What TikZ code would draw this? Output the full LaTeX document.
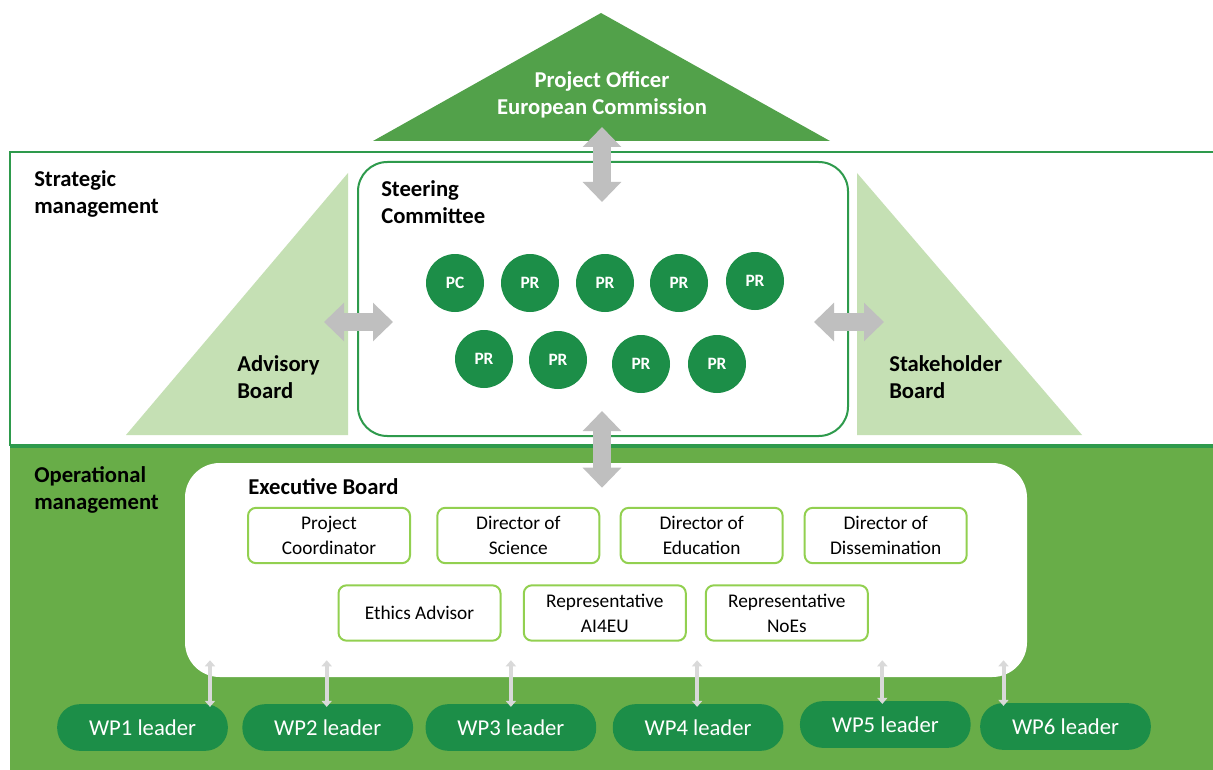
\documentclass[tikz,border=0pt]{standalone}
\usepackage{fontspec}
\setmainfont{Carlito}
\usetikzlibrary{positioning, calc, arrows.meta}
\definecolor{topgreen}{HTML}{52A14A}
\definecolor{opgreen}{HTML}{68AD48}
\definecolor{linegreen}{HTML}{2E9A4C}
\definecolor{darkgreen}{HTML}{1C8E48}
\definecolor{lightgreen}{HTML}{C5E0B4}
\definecolor{boxgreen}{HTML}{92D050}
\definecolor{arrowgray}{HTML}{BFBFBF}
\definecolor{thingray}{HTML}{D9D9D9}
\tikzset{heading/.style={font=\fontsize{17}{20.25}\selectfont\bfseries, align=left, anchor=west, inner sep=0pt},
member/.style={circle, fill=darkgreen, minimum size=43.5pt, inner sep=0pt, text=white, font=\fontsize{13}{15}\selectfont\bfseries},
role/.style={draw=boxgreen, line width=1.5pt, fill=white, rounded corners=6pt, minimum width=121.5pt, minimum height=41.5pt, align=center, inner sep=2pt, font=\fontsize{14.5}{18.75}\selectfont},
leader/.style={fill=darkgreen, rounded corners=17pt, minimum width=128pt, minimum height=35pt, text=white, font=\fontsize{17}{20}\selectfont},
bigline/.style={arrows={Triangle[length=15pt,width=28pt]-Triangle[length=15pt,width=28pt]}, line width=13pt, arrowgray},
thinline/.style={arrows={Triangle[length=4.5pt,width=7.5pt]-Triangle[length=4.5pt,width=7.5pt]}, line width=3pt, thingray}
}

\begin{document}
\begin{tikzpicture}[x=0.75pt, y=-0.75pt]
\useasboundingbox (0,0) rectangle (1213,770);

\fill[white] (10,152) rectangle (1213,446);
\fill[opgreen] (10,446) rectangle (1213,770);
\draw[linegreen, line width=1.5pt] (1213,152) -- (10,152) -- (10,446);
\draw[linegreen, line width=2.5pt] (10,446) -- (1213,446);

\fill[topgreen] (601,13) -- (830,141) -- (373,141) -- cycle;
\fill[lightgreen] (348,173) -- (348,435) -- (126,435) -- cycle;
\fill[lightgreen] (857,173) -- (857,435) -- (1082,435) -- cycle;
\coordinate (po base) at (602,141);
\coordinate (ab edge) at (348,322);
\coordinate (sb edge) at (857,322);

\node[heading, anchor=center, align=center, text=white] (po) at (602,95) {Project Officer\\European Commission};
\node[heading] (strat) at (34,194) {Strategic\\management};
\node[heading] (oper) at (34,490) {Operational\\management};
\node[heading] (ab) at (237,377) {Advisory\\Board};
\node[heading] (sb) at (889,377) {Stakeholder\\Board};

\node[draw=linegreen, line width=1.5pt, rounded corners=22pt, minimum width=367.5pt, minimum height=205.5pt] (sc) at (603,299) {};
\node[heading] (sctitle) at (381,202) {Steering\\Committee};
\foreach \name/\t/\x/\y in {pc/PC/455/283, pr1/PR/530/283, pr2/PR/605/283, pr3/PR/679/283, pr4/PR/755/281,
  pr5/PR/484/359, pr6/PR/558/360, pr7/PR/641/364, pr8/PR/717/364}
  \node[member] (\name) at (\x,\y) {\t};

\node[fill=white, rounded corners=26pt, minimum width=631.5pt, minimum height=160.5pt] (eb) at (606,570) {};
\node[heading] (ebtitle) at (248,487) {Executive Board};

\node[role] (coord) at (329,535.5) {Project\\Coordinator};
\node[role, right=19pt of coord] (science) {Director of\\Science};
\node[role, right=14.5pt of science] (education) {Director of\\Education};
\node[role, right=15pt of education] (dissem) {Director of\\Dissemination};
\node[role] (ethics) at (419.5,613) {Ethics Advisor};
\node[role, right=16pt of ethics] (aieu) {Representative\\AI4EU};
\node[role, right=13.5pt of aieu] (noes) {Representative\\NoEs};

\node[leader] (wp1) at (142.5,727.5) {WP1 leader};
\node[leader, right=10.5pt of wp1] (wp2) {WP2 leader};
\node[leader, right=9pt of wp2] (wp3) {WP3 leader};
\node[leader, right=12pt of wp3] (wp4) {WP4 leader};
\node[leader, right=12pt of wp4, yshift=2.25pt] (wp5) {WP5 leader};
\node[leader, right=6.75pt of wp5, yshift=-1.5pt] (wp6) {WP6 leader};

\draw[bigline] ($(po base)+(0,-14)$) -- ($(sc.north)+(-1,41)$);
\draw[bigline] ($(sc.south)+(-1,-26)$) -- ($(sc.south |- eb.north)+(-1,25)$);
\draw[bigline] ($(ab edge)+(-24,0)$) -- ($(sc.west)+(36,23)$);
\draw[bigline] ($(sc.east)+(-35,23)$) -- ($(sb edge)+(27,0)$);
\foreach \i/\dx in {1/67.5, 2/-1, 3/0, 4/-1, 5/-3, 6/-62}
  \draw[thinline] ($(wp\i.north)+(\dx,3)$) -- ($(wp\i.north |- eb.south)+(\dx,-17)$);
\end{tikzpicture}
\end{document}
